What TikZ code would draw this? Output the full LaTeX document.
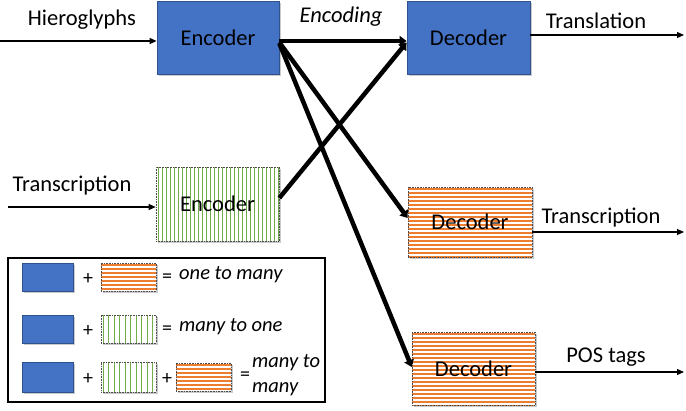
\documentclass[tikz,border=0pt]{standalone}
\usepackage{fontspec}
\setmainfont{Carlito}
\usetikzlibrary{arrows.meta,calc,shadows}
\definecolor{ppBlue}{HTML}{4472C4}
\definecolor{ppBlueDark}{HTML}{2F528F}
\definecolor{ppOrange}{HTML}{ED7D31}
\definecolor{ppGreen}{HTML}{70AD47}
\begin{document}
\begin{tikzpicture}[x=1pt,y=-1pt,
  lbl/.style={font=\fontsize{22.5}{27}\selectfont, inner sep=0pt},
  legtxt/.style={font=\fontsize{20.5}{25}\selectfont\itshape, inner sep=0pt, align=left},
  sym/.style={font=\fontsize{20}{24}\selectfont, inner sep=0pt},
  shad/.style={drop shadow={shadow xshift=2pt, shadow yshift=-2pt, opacity=0.35, fill=black!60}},
  bluebox/.style={rectangle, fill=ppBlue, draw=ppBlueDark, line width=0.8pt, shad,
     font=\fontsize{22.5}{27}\selectfont, inner sep=0pt},
  orangebox/.style={rectangle, draw=black!70, densely dotted, line width=0.6pt, shad,
     font=\fontsize{22.5}{27}\selectfont, inner sep=0pt,
     path picture={
       \fill[white] (path picture bounding box.south west) rectangle (path picture bounding box.north east);
       \foreach \k in {0,...,25}{
         \fill[ppOrange] ($(path picture bounding box.north west)+(0,\k*4+0.6)$) rectangle ($(path picture bounding box.north east)+(0,\k*4+3.0)$);
       }
     }},
  greenbox/.style={rectangle, draw=black!70, densely dotted, line width=0.6pt, shad,
     font=\fontsize{22.5}{27}\selectfont, inner sep=0pt,
     path picture={
       \fill[white] (path picture bounding box.south west) rectangle (path picture bounding box.north east);
       \foreach \k in {0,...,40}{
         \draw[ppGreen, line width=1pt, solid] ($(path picture bounding box.north west)+(\k*#1+2,0)$) -- ($(path picture bounding box.south west)+(\k*#1+2,0)$);
       }
     }},
  thickarrow/.style={line width=4.5pt, -{Triangle[length=7pt,width=10pt]}},
  thinarrow/.style={line width=1.1pt, -{Triangle[length=7pt,width=6pt]}}
]
\useasboundingbox (0,0) rectangle (686,410);

% main boxes
\node[bluebox, minimum width=122pt, minimum height=73pt] (enc1) at (218,37.5) {Encoder};
\node[bluebox, minimum width=123pt, minimum height=73pt] (dec1) at (468.5,37.5) {Decoder};
\node[greenbox=4, minimum width=123pt, minimum height=74pt] (enc2) at (217.5,204) {Encoder};
\node[orangebox, minimum width=124pt, minimum height=70pt] (dec2) at (470,222) {Decoder};
\node[orangebox, minimum width=123pt, minimum height=73pt] (dec3) at (473.5,368.5) {Decoder};

% labels
\node[lbl] (hier) at (82,20) {Hieroglyphs};
\node[lbl] (trin) at (72,186) {Transcription};
\node[lbl, font=\fontsize{22.5}{27}\selectfont\itshape] (encg) at (341,17) {Encoding};
\node[lbl] (trans) at (596,21) {Translation};
\node[lbl] (trout) at (601,218) {Transcription};
\node[lbl] (pos) at (606,357) {POS tags};

% input / output arrows
\coordinate (hin) at (0,41);
\coordinate (tin) at (8,207);
\coordinate (tout1) at (684,35);
\coordinate (tout2) at (684,232);
\coordinate (tout3) at (684,372);
\draw[thinarrow] (hin) -- (hin -| enc1.west);
\draw[thinarrow] (tin) -- (tin -| enc2.west);
\draw[thinarrow] (tout1 -| dec1.east) -- (tout1);
\draw[thinarrow] (tout2 -| dec2.east) -- (tout2);
\draw[thinarrow] (tout3 -| dec3.east) -- (tout3);

% thick connectors
\draw[thickarrow] ([yshift=-3.5pt]enc1.east) -- ([yshift=-3.5pt]dec1.west);
\draw[thickarrow] ([yshift=-5pt]enc1.east) -- ([yshift=4pt]dec2.west);
\draw[thickarrow] ([yshift=-6pt]enc1.east) -- ([yshift=1.5pt]dec3.west);
\draw[thickarrow] ([yshift=6pt]enc2.east) -- ([yshift=-5pt]dec1.west);

% legend
\node[draw=black, line width=1.2pt, minimum width=317pt, minimum height=144pt, inner sep=0pt] (leg) at (166.5,330) {};
\node[bluebox, minimum width=51pt, minimum height=28pt] (lb1) at (47.5,277) {};
\node[sym] (lp1) at (88,279) {+};
\node[orangebox, minimum width=55pt, minimum height=28pt] (lo1) at (128.5,277) {};
\node[sym] (le1) at (167,278) {=};
\node[legtxt, anchor=west] (lt1) at (179,275) {one to many};

\node[bluebox, minimum width=51pt, minimum height=28pt] (lb2) at (47.5,329) {};
\node[sym] (lp2) at (88,331) {+};
\node[greenbox=5.5, minimum width=55pt, minimum height=28pt] (lg2) at (128.5,329) {};
\node[sym] (le2) at (167,330) {=};
\node[legtxt, anchor=west] (lt2) at (179,327) {many to one};

\node[bluebox, minimum width=51pt, minimum height=30pt] (lb3) at (47.5,377) {};
\node[sym] (lp3) at (88,379) {+};
\node[greenbox=5.5, minimum width=55pt, minimum height=30pt] (lg3) at (128.5,377) {};
\node[sym] (lp4) at (167,379) {+};
\node[orangebox, minimum width=55pt, minimum height=28pt] (lo3) at (203.5,377) {};
\node[sym] (le3) at (245,376) {=};
\node[legtxt, anchor=west] (lt3) at (252,375) {many to\\many};
\end{tikzpicture}
\end{document}
